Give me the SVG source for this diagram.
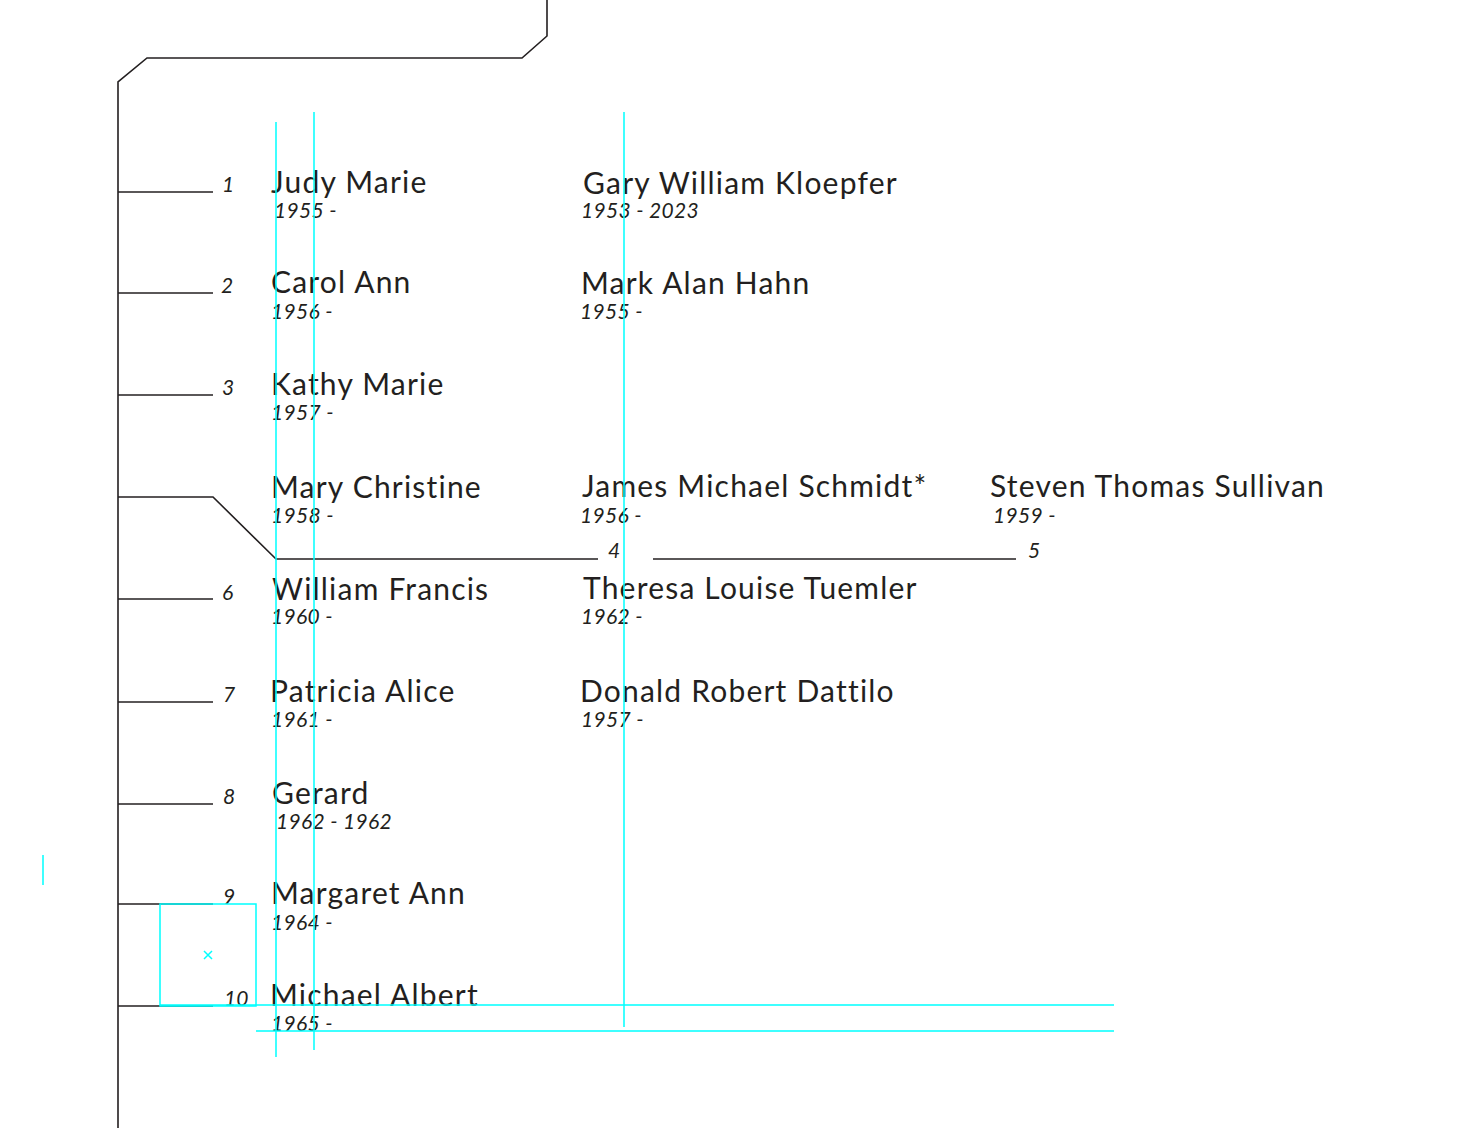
<svg xmlns="http://www.w3.org/2000/svg" width="1464" height="1128" viewBox="0 0 1464 1128">
<style>
.ln{fill:none;stroke:#231f20;stroke-width:1.6}
.g{fill:none;stroke:#00ffff;stroke-width:1.5}
.nm{font-family:Lato,"Noto Sans",sans-serif;font-size:30px;letter-spacing:1.2px;fill:#231f20}
.dt{font-family:Lato,"Noto Sans",sans-serif;font-size:21px;letter-spacing:0.3px;font-style:italic;fill:#231f20}
.no{font-family:Lato,"Noto Sans",sans-serif;font-size:21px;font-style:italic;fill:#231f20}
</style>
<rect width="1464" height="1128" fill="#fff"/>
<g id="connectors">
<path class="ln" d="M118,1128 V82 L147,58 H522 L547,36 V0"/>
<path class="ln" d="M118,192 H213"/>
<path class="ln" d="M118,293 H213"/>
<path class="ln" d="M118,395 H213"/>
<path class="ln" d="M118,497 H213 L276,559 H598"/>
<path class="ln" d="M653,559 H1016"/>
<path class="ln" d="M118,599 H213"/>
<path class="ln" d="M118,702 H213"/>
<path class="ln" d="M118,804 H213"/>
<path class="ln" d="M118,904 H213"/>
<path class="ln" d="M118,1006 H213"/>
</g>
<g id="numbers">
<text class="no" x="222" y="192">1</text>
<text class="no" x="221" y="293">2</text>
<text class="no" x="222" y="395">3</text>
<text class="no" x="608" y="558">4</text>
<text class="no" x="1028" y="558">5</text>
<text class="no" x="222" y="600">6</text>
<text class="no" x="223" y="702">7</text>
<text class="no" x="223" y="804">8</text>
<text class="no" x="223" y="904">9</text>
<text class="no" x="224" y="1006">10</text>
</g>
<g id="n1"><text class="nm" x="271" y="193">Judy Marie</text><text class="dt" x="274" y="218">1955 -</text></g>
<g id="s1"><text class="nm" x="583" y="194">Gary William Kloepfer</text><text class="dt" x="581" y="218">1953 - 2023</text></g>
<g id="n2"><text class="nm" x="271" y="293">Carol Ann</text><text class="dt" x="271" y="319">1956 -</text></g>
<g id="s2"><text class="nm" x="581" y="294">Mark Alan Hahn</text><text class="dt" x="580" y="319">1955 -</text></g>
<g id="n3"><text class="nm" x="271" y="395">Kathy Marie</text><text class="dt" x="271" y="420">1957 -</text></g>
<g id="n4"><text class="nm" x="271" y="498">Mary Christine</text><text class="dt" x="271" y="523">1958 -</text></g>
<g id="s4a"><text class="nm" x="582" y="497">James Michael Schmidt*</text><text class="dt" x="580" y="523">1956 -</text></g>
<g id="s4b"><text class="nm" x="990" y="497">Steven Thomas Sullivan</text><text class="dt" x="993" y="523">1959 -</text></g>
<g id="n6"><text class="nm" x="272" y="600">William Francis</text><text class="dt" x="271" y="624">1960 -</text></g>
<g id="s6"><text class="nm" x="583" y="599">Theresa Louise Tuemler</text><text class="dt" x="581" y="624">1962 -</text></g>
<g id="n7"><text class="nm" x="270" y="702">Patricia Alice</text><text class="dt" x="271" y="727">1961 -</text></g>
<g id="s7"><text class="nm" x="580" y="702">Donald Robert Dattilo</text><text class="dt" x="581" y="727">1957 -</text></g>
<g id="n8"><text class="nm" x="272" y="804">Gerard</text><text class="dt" x="276" y="829">1962 - 1962</text></g>
<g id="n9"><text class="nm" x="271" y="904">Margaret Ann</text><text class="dt" x="271" y="930">1964 -</text></g>
<g id="n10"><text class="nm" x="270" y="1006">Michael Albert</text><text class="dt" x="271" y="1031">1965 -</text></g>
<g id="guides">
<path class="g" d="M276,122 V1057 M314,112 V1050 M624,112 V1027 M160,1005 H1114 M256,1031 H1114 M43,855 V885"/>
<rect class="g" x="160" y="904" width="96" height="102"/>
<path class="g" d="M204,951 L212,959 M212,951 L204,959" stroke-width="1.2"/>
</g>
</svg>
